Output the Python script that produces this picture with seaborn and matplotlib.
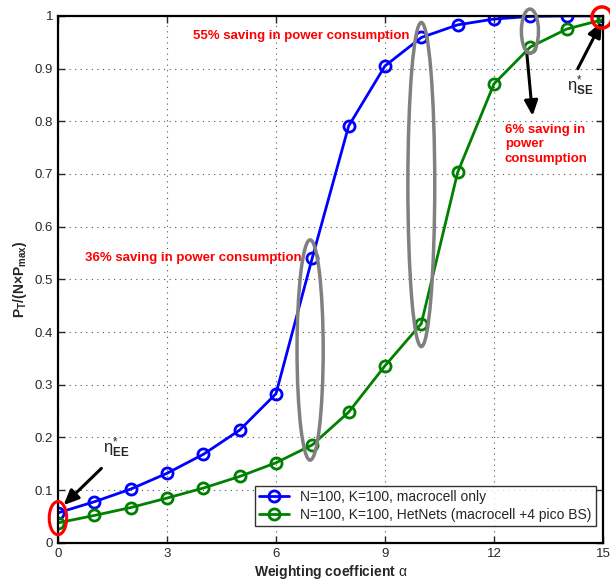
import numpy as np
import pandas as pd
import matplotlib
matplotlib.use("Agg")
import matplotlib.pyplot as plt
from matplotlib.patches import Ellipse
import seaborn as sns

# ---- data ----
alpha = [0, 1, 2, 3, 4, 5, 6, 7, 8, 9, 10, 11, 12, 13, 14, 15]
macro_only = [0.057, 0.078, 0.102, 0.132, 0.168, 0.214, 0.283, 0.541, 0.791,
              0.905, 0.959, 0.983, 0.994, 0.999, 1.0, 1.0]
hetnets = [0.038, 0.052, 0.067, 0.085, 0.104, 0.126, 0.152, 0.186, 0.248,
           0.336, 0.416, 0.703, 0.871, 0.941, 0.975, 0.993]
series_labels = ["N=100, K=100, macrocell only",
                 "N=100, K=100, HetNets (macrocell +4 pico BS)"]
x_ticks = [0, 3, 6, 9, 12, 15]
y_ticks = [0, 0.1, 0.2, 0.3, 0.4, 0.5, 0.6, 0.7, 0.8, 0.9, 1.0]
y_ticklabels = ["0", "0.1", "0.2", "0.3", "0.4", "0.5", "0.6", "0.7", "0.8", "0.9", "1"]

sns.set_style("ticks")
plt.rcParams['font.family'] = ['Liberation Sans', 'DejaVu Sans']
plt.rcParams['mathtext.fontset'] = 'custom'
plt.rcParams['mathtext.rm'] = 'Liberation Sans'
plt.rcParams['mathtext.bf'] = 'Liberation Sans:bold'
plt.rcParams['mathtext.it'] = 'Liberation Sans:italic'

fig = plt.figure(figsize=(6.1, 5.8), dpi=100)
ax = fig.add_axes([0.095, 0.064, 0.8935, 0.9086])

df = pd.DataFrame({
    "alpha": alpha * 2,
    "value": macro_only + hetnets,
    "series": [series_labels[0]] * len(alpha) + [series_labels[1]] * len(alpha),
})
palette = {series_labels[0]: "#0000ff", series_labels[1]: "#008000"}
sns.lineplot(data=df, x="alpha", y="value", hue="series", palette=palette,
             marker="o", markersize=8, markerfacecolor="none",
             markeredgewidth=2, linewidth=2, ax=ax, legend=True)
for line in ax.lines:
    line.set_markeredgecolor(line.get_color())
    line.set_markerfacecolor("none")

ax.set_xlim(0, 15)
ax.set_ylim(0, 1)
ax.set_xticks(x_ticks)
ax.set_xticklabels([str(t) for t in x_ticks])
ax.set_yticks(y_ticks)
ax.set_yticklabels(y_ticklabels)
ax.tick_params(direction="in", top=True, right=True, labelsize=9.5, length=5, width=1)
ax.grid(True, color="#555555", linestyle=(0, (1, 4)), linewidth=0.8)
for s in ax.spines.values():
    s.set_linewidth(1.6)
    s.set_color("black")

ax.set_xlabel(r"Weighting coefficient $\mathrm{\alpha}$", fontsize=10, fontweight="bold", labelpad=2)
ax.set_ylabel(r"$\mathbf{P_T/(N{\times}P_{max})}$", fontsize=10, labelpad=4)

leg = ax.legend(loc="lower right", bbox_to_anchor=(0.987, 0.032), fontsize=10,
                frameon=True, fancybox=False, edgecolor="black", borderaxespad=0.0,
                handlelength=2.2, borderpad=0.3, labelspacing=0.3)
leg.get_frame().set_linewidth(1.0)
for h in leg.get_lines():
    h.set_markerfacecolor("none")
    h.set_markeredgewidth(2)

# ---- annotations ----
gray = "#808080"
for (cx, cy, w, h) in [(6.94, 0.366, 0.72, 0.418),
                       (10.0, 0.68, 0.74, 0.615),
                       (12.99, 0.971, 0.47, 0.084)]:
    ax.add_patch(Ellipse((cx, cy), w, h, fill=False, edgecolor=gray,
                         linewidth=2.5, clip_on=False, zorder=5))
ax.add_patch(Ellipse((0.0, 0.047), 0.48, 0.063, fill=False, edgecolor="red",
                     linewidth=2.2, clip_on=False, zorder=6))
ax.add_patch(Ellipse((14.97, 0.997), 0.55, 0.04, fill=False, edgecolor="red",
                     linewidth=2.5, clip_on=False, zorder=6))

red_kw = dict(color="red", fontsize=9.5, fontweight="bold")
ax.text(3.72, 0.962, "55% saving in power consumption", va="center", ha="left", **red_kw)
ax.text(0.74, 0.541, "36% saving in power consumption", va="center", ha="left", **red_kw)
ax.text(12.3, 0.756, "6% saving in\npower\nconsumption", va="center", ha="left",
        linespacing=1.25, **red_kw)

arrow_kw = dict(arrowstyle="-|>,head_length=0.9,head_width=0.4", color="black", lw=2.2)
ax.annotate("", xy=(0.1, 0.068), xytext=(1.25, 0.145), arrowprops=arrow_kw)
ax.annotate("", xy=(15.0, 0.993), xytext=(14.27, 0.895), arrowprops=arrow_kw)
ax.annotate("", xy=(13.07, 0.805), xytext=(12.9, 0.932), arrowprops=arrow_kw)

ax.text(1.25, 0.158, r"$\mathrm{\eta}^{*}_{\mathbf{EE}}$", fontsize=12, ha="left", va="bottom")
ax.text(14.0, 0.845, r"$\mathrm{\eta}^{*}_{\mathbf{SE}}$", fontsize=12, ha="left", va="bottom")

fig.savefig("out.png", dpi=100)
